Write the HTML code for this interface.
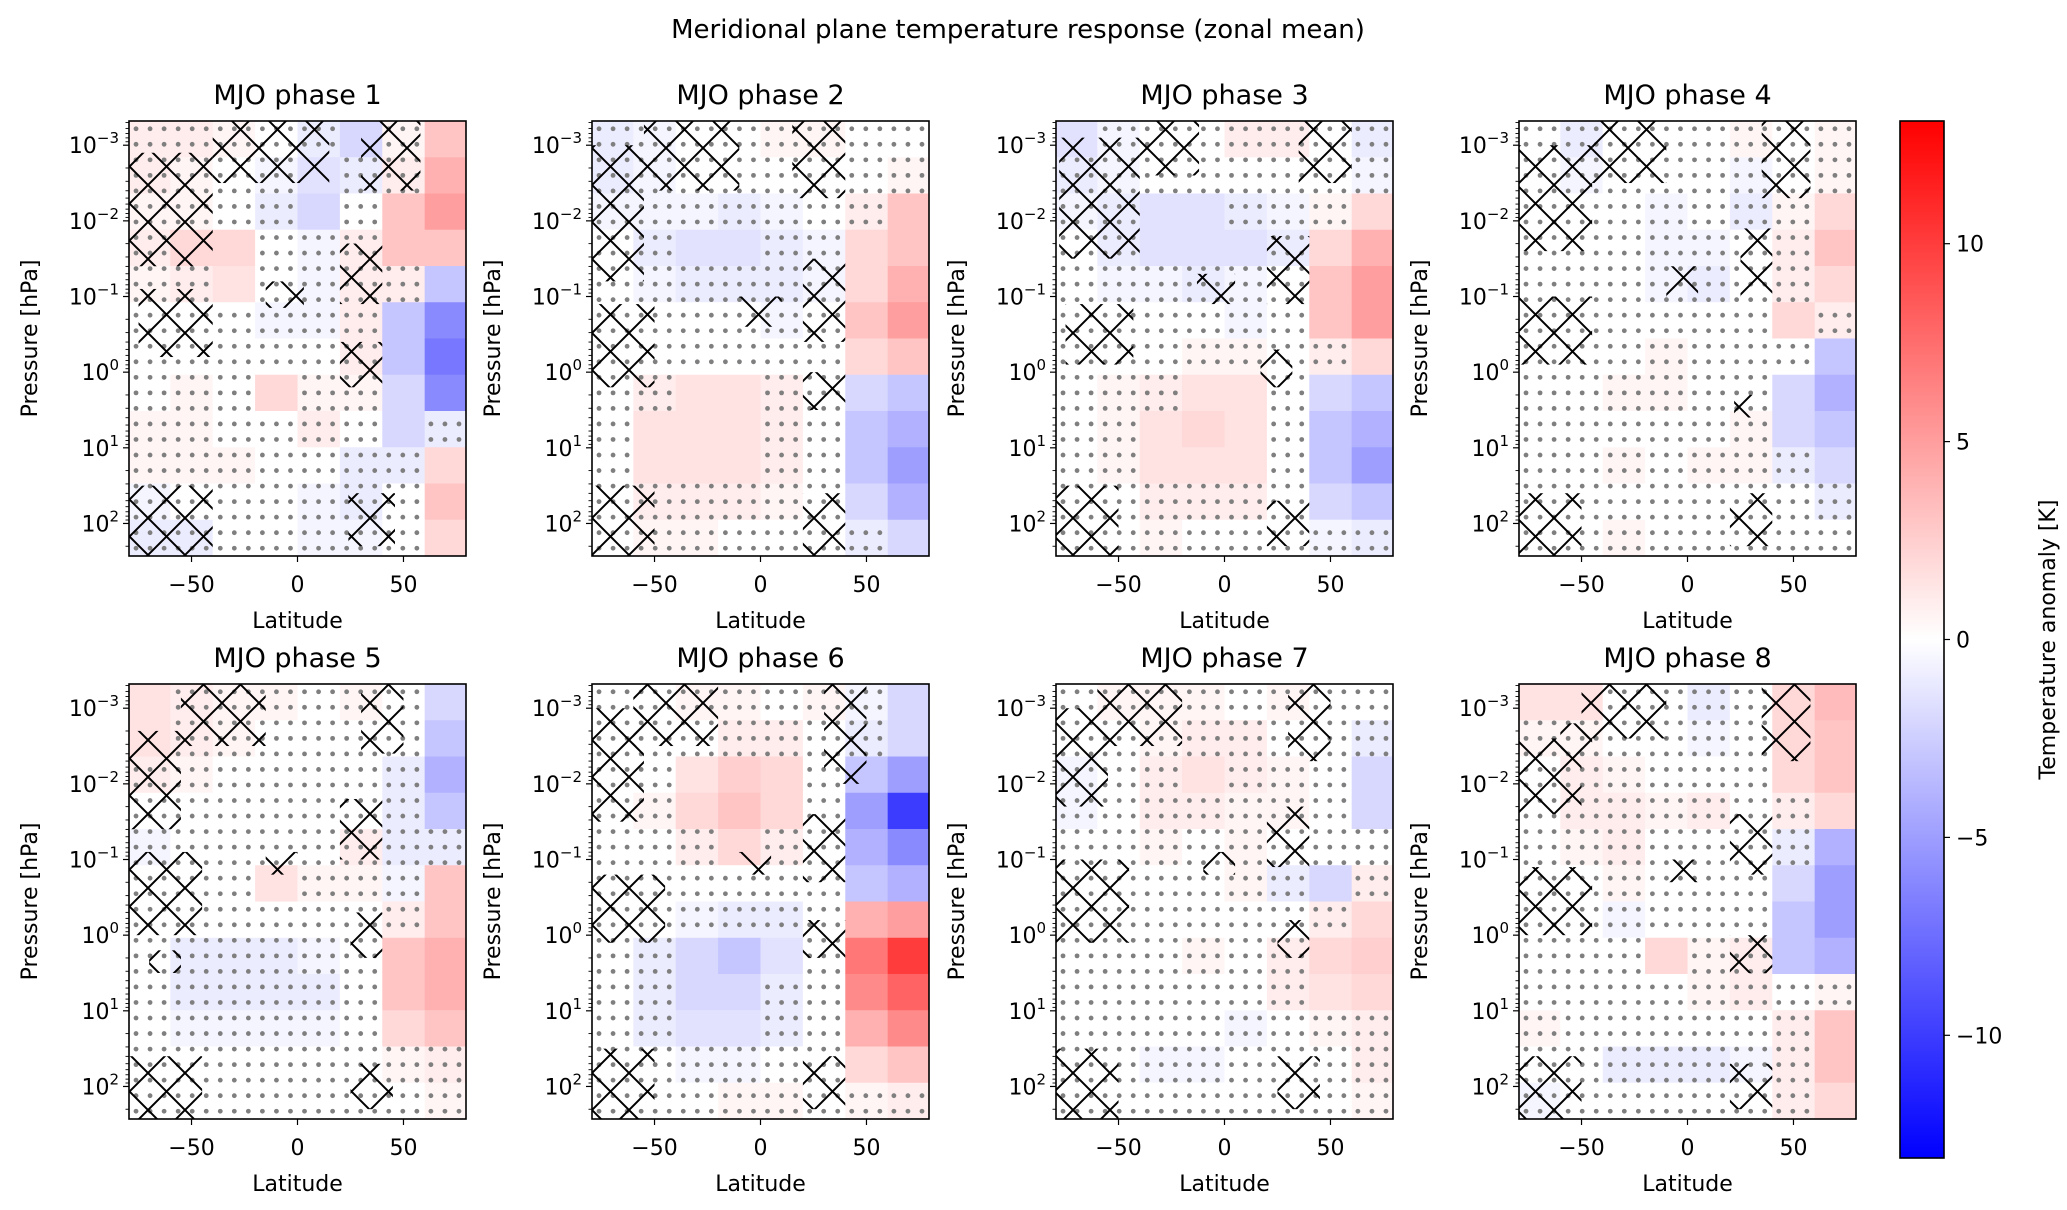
<!DOCTYPE html>
<html><head><meta charset="utf-8"><style>
html,body{margin:0;padding:0;background:#fff}
svg text{font-family:"DejaVu Sans","Liberation Sans",sans-serif;fill:#000}
</style></head><body>
<svg id="fig" width="2067" height="1205" viewBox="0 0 2067 1205" xmlns="http://www.w3.org/2000/svg">
<defs>
<pattern id="hatch" patternUnits="userSpaceOnUse" width="37" height="37">
<path d="M0,0L37,37M37,0L0,37" stroke="#000" stroke-width="2" fill="none"/>
</pattern>
<linearGradient id="cbgrad" x1="0" y1="1" x2="0" y2="0">
<stop offset="0" stop-color="rgb(0,0,255)"/><stop offset="0.5" stop-color="rgb(255,255,255)"/><stop offset="1" stop-color="rgb(255,0,0)"/>
</linearGradient>
</defs>
<text x="1018" y="38" font-size="26" text-anchor="middle">Meridional plane temperature response (zonal mean)</text>
</svg>
<script>
// ---- data ----
const latEdges = [-80,-60,-40,-20,0,20,40,60,80];
const logpTop = -3.32, logpBottom = 2.43;
const nRows = 12;
const cbTicks = [10,5,0,-5,-10];
const yTickExps = [-3,-2,-1,0,1,2];
const xTicks = [-50,0,50];
const vmax = 13.1;
const phase1 = [[1,1,0.5,0,-1,-2,0.5,3],[1,0.5,0,-0.5,-1.5,-1,1,4],[0.5,0.5,0,-1,-2,0,3,5],[1,2,2,0,-0.5,1,3,3],[0.5,1,1.5,0,-0.5,1,1,-3],[0,0,0,-0.5,-0.5,1,-3,-6],[0,0,0,0,0,1,-3,-7],[0,0.5,0,2,0.5,0.5,-2,-6],[0.5,0.5,0,0,1,0,-2,-1],[0.5,0.5,0.5,0,0,-1,-1,2],[-0.5,0,0,0,-0.5,-1,0,3],[-1,-1,0,0,-0.5,-0.5,0,2]];
const phase2 = [[-1,-0.5,0,0,0.5,0.5,0,0],[-1,-0.5,0,0,0,0,0,0.5],[-0.5,-0.5,-0.5,-1,-0.5,0,1,3],[0,-1,-1.5,-1.5,-1,-0.5,2,3],[0,-0.5,-1,-1,-1,-0.5,2,4],[0,0,0,0,-0.5,0,3,5],[0,0,0,0,0,0,2,3],[0,1,1.5,1.5,1,0,-2,-3],[0,1.5,1.5,1.5,1,0,-3,-4],[0,1.5,1.5,1.5,1,0,-3,-5],[0,1,1,1,0.5,0,-2,-4],[0,0.5,0.5,0,0,0,-1,-2]];
const phase3 = [[-1.5,-0.5,0,0,1,1,0,-1],[-1,-0.5,0,0,0,0,0,-0.5],[-0.5,-1,-1.5,-1.5,-1,-0.5,0.5,2],[0,-1,-1.5,-1.5,-1.5,-1,2,4],[0,-0.5,-0.5,-1,-0.5,0,3,5],[0,0,0,0,-0.5,0,3,5],[0,0,0,0.5,0.5,0,1,2],[0,0.5,1,1.5,1.5,0,-2,-3],[0,0.5,1.5,2,1.5,0,-3,-4],[0,0.5,1.5,1.5,1.5,0,-3,-5],[0,0,1,1,1,0,-2,-3],[0,0,0.5,0,0,0,-0.5,-1]];
const phase4 = [[0,-1,0,0,0,0.5,0,0.5],[0,-0.5,0,0,0,-0.5,0,0.5],[0,0,0,-0.5,0,-1,0.5,2],[0,0,0,-0.5,-0.5,0,1,3],[0,0,0,-0.5,-1,0,1,2],[0,0,0,0,0,0,2,1],[0,0,0,0.5,0,0,0,-3],[0,0,0.5,0.5,0,0,-2,-4],[0,0,0,0,0,0.5,-2,-3],[0,0,0.5,0,0.5,0.5,-1,-2],[0,0,0,0,0,0,0,-1],[0,0,0.5,0,0,0,0,0]];
const phase5 = [[1.5,1,0.5,0.5,0,0.5,0,-2],[1.5,1,0.5,0,0,0,0,-3],[1,0.5,0,0,0,0,-1,-4],[0,0,0,0,0,0,-1,-3],[-0.5,0,0,0,0,1,-1,-1],[0,0,0,1.5,0.5,0.5,-0.5,3],[0,0,0,0,0,0,1,3],[0,-1,-1,-1,-0.5,0,3,4],[0,-1,-1,-1,-1,0,3,4],[0,-0.5,-0.5,-0.5,-0.5,0,2,3],[0,0,0,0,0,0,0.5,1],[0,0,0,0,0,0,0,0.5]];
const phase6 = [[0,0,0.5,0.5,0,0.5,-0.5,-2],[0,0,0,1,1,0,-1,-2],[0,0,1.5,2.5,2,0,-3,-5],[0,0.5,2,3,2,0,-5,-10],[0,0,1,2,1,0,-4,-6],[0,0,0,0,0,0,-3,-4],[0,0,-0.5,-1,-1,0,4,5],[0,-1,-2,-3,-1.5,0,7,10],[0,-1,-2,-2,-1,0,6,8],[0,-1,-1.5,-1.5,-1,0,4,6],[0,0,-0.5,-0.5,0,0,2,3],[0,0,0,0.5,0.5,0,0.5,1]];
const phase7 = [[0,0.5,0.5,0.5,0,0.5,0,0],[0,0,0.5,1,1,0,0,-1],[-0.5,0,1,1.5,1,0.5,0,-2],[-0.5,0,1,1,0.5,0.5,0,-2],[0,0,0.5,0,0.5,0,0,0],[0,0,0,0,0.5,-1,-2,1],[0,0,0,0,0,0,1,2],[0,0,0,0.5,0,1,2,2.5],[0,0,0,0,0,1,1.5,2],[0,0,0,0,-0.5,0,0.5,1],[0,0,-0.5,-0.5,0,0,0,1],[0,0,0,0,0,0,0,0.5]];
const phase8 = [[1.5,1.5,0,0,-1,0,2,3.5],[0.5,0.5,0,0,-0.5,0,2,3],[0,1,0.5,0,0,0,2,3],[0,1,1,0.5,1,0,1,2],[0,0.5,1,0,0,0,-1,-4],[0,0,0.5,0,0,0,-2,-5],[0,0,-0.5,0,0,0,-3,-5],[0,0,0,2,0.5,1,-3,-4],[0,0,0,0,0.5,1,0,0.5],[0.5,0,0,0,0,0,1,3],[0,0,-1,-1,-1,-0.5,1,3],[-0.5,0,0,0,0,0,1,2]];
const hatch1 = [[-80,-40,-2.9,-1.4],[-40,15,-3.32,-2.5],[30,58,-3.32,-2.4],[-75,-40,-1.1,-0.2],[-80,-40,1.5,2.43],[20,40,-1.7,-0.9],[-15,3,-1.2,-0.85],[20,40,-0.4,0.2],[24,46,1.6,2.3]];
const hatch2 = [[-80,-55,-3.0,-1.2],[-55,-10,-3.32,-2.4],[15,40,-3.32,-2.3],[-80,-50,-0.9,0.2],[-80,-50,1.5,2.43],[-10,10,-1.0,-0.6],[20,40,-1.5,-0.4],[20,40,0.0,0.5],[20,40,1.6,2.43]];
const hatch3 = [[-78,-40,-3.1,-1.5],[-40,-12,-3.32,-2.6],[35,60,-3.32,-2.5],[-75,-43,-0.9,-0.1],[-80,-50,1.5,2.43],[-13,5,-1.3,-0.9],[20,40,-1.8,-0.9],[17,32,-0.3,0.2],[20,40,1.7,2.3]];
const hatch4 = [[-80,-45,-3.0,-1.6],[-45,-10,-3.32,-2.5],[35,58,-3.32,-2.3],[-80,-45,-1.0,-0.1],[-80,-50,1.6,2.43],[-10,5,-1.4,-1.0],[25,40,-1.9,-1.0],[22,35,0.3,0.6],[20,40,1.6,2.3]];
const hatch5 = [[-80,-55,-2.7,-1.4],[-55,-15,-3.32,-2.5],[30,50,-3.32,-2.4],[-80,-45,-1.1,0],[-80,-45,1.6,2.43],[-15,0,-1.1,-0.8],[20,40,-1.8,-1.0],[25,40,-0.3,0.3],[25,45,1.7,2.3],[-70,-55,0.2,0.5]];
const hatch6 = [[-80,-55,-3.0,-1.5],[-60,-20,-3.32,-2.5],[30,50,-3.32,-2.0],[-80,-45,-0.8,0.1],[-80,-50,1.5,2.43],[-10,5,-1.1,-0.8],[20,40,-1.6,-0.7],[20,40,-0.2,0.3],[20,40,1.6,2.3]];
const hatch7 = [[-80,-55,-3.0,-1.7],[-60,-20,-3.32,-2.5],[30,50,-3.32,-2.3],[-80,-45,-1.0,0.1],[-80,-50,1.5,2.43],[-10,5,-1.1,-0.8],[20,40,-1.7,-0.9],[25,40,-0.2,0.3],[25,45,1.6,2.3]];
const hatch8 = [[-80,-50,-2.6,-1.6],[-50,-10,-3.32,-2.6],[35,58,-3.32,-2.3],[-80,-45,-0.9,0],[-80,-50,1.6,2.43],[-10,5,-1.0,-0.7],[20,40,-1.6,-0.8],[20,40,0.0,0.5],[20,40,1.7,2.3],[-60,-45,-2.8,-2.4]];
const phases = [phase1,phase2,phase3,phase4,phase5,phase6,phase7,phase8];
const hatches = [hatch1,hatch2,hatch3,hatch4,hatch5,hatch6,hatch7,hatch8];

// ---- layout ----
const NS = "http://www.w3.org/2000/svg";
const svg = document.getElementById('fig');
const colLeft = [129,592,1056,1519], rowTop = [121,684], PW = 337, PH = 435;
const latMin = -79.5, latMax = 79.5;
function mk(tag, attrs, parent){const e=document.createElementNS(NS,tag);for(const k in attrs)e.setAttribute(k,attrs[k]);(parent||svg).appendChild(e);return e;}
function cmap(v){let t=Math.max(-1,Math.min(1,v/vmax));if(t>=0){const c=Math.round(255*(1-t));return `rgb(255,${c},${c})`;}const c=Math.round(255*(1+t));return `rgb(${c},${c},255)`;}
function supLabel(g,x,y,exp,anchor){
  const t=mk('text',{x:x,y:y,'font-size':22,'text-anchor':anchor},g);
  t.appendChild(document.createTextNode('10'));
  const s=mk('tspan',{'font-size':15,dy:-10},t);
  s.textContent=(exp<0?'\u2212':'')+Math.abs(exp);
  return t;
}

phases.forEach((data,pi)=>{
  const L=colLeft[pi%4], T=rowTop[Math.floor(pi/4)];
  const xs = lat => L + (lat-latMin)/(latMax-latMin)*PW;
  const ys = lp => T + (lp-logpTop)/(logpBottom-logpTop)*PH;
  const g=mk('g',{});
  
  
  const cid='clip'+pi;
  const cp=mk('clipPath',{id:cid},g); mk('rect',{x:L,y:T,width:PW,height:PH},cp);
  const plot=mk('g',{'clip-path':`url(#${cid})`},g);
  
  
  const rowH=(logpBottom-logpTop)/nRows;
  data.forEach((row,ri)=>{row.forEach((v,ci)=>{
    const x0=xs(latEdges[ci]),x1=xs(latEdges[ci+1]),y0=ys(logpTop+ri*rowH),y1=ys(logpTop+(ri+1)*rowH);
    const r=mk('rect',{x:x0,y:y0,width:x1-x0+0.6,height:y1-y0+0.6,fill:cmap(v)},plot);
    
    
  });});
  // significance dots
  const nDx=24,nDy=28;
  for(let i=0;i<nDx;i++)for(let j=0;j<nDy;j++){
    const lat=latMin+(i+0.5)*(latMax-latMin)/nDx, lp=logpTop+(j+0.5)*(logpBottom-logpTop)/nDy;
    let ci=latEdges.findIndex((e,k)=>k<latEdges.length-1&&lat>=e&&lat<latEdges[k+1]); if(ci<0)ci=lat<0?0:7;
    let ri=Math.min(nRows-1,Math.max(0,Math.floor((lp-logpTop)/rowH)));
    if(Math.abs(data[ri][ci])<1.5){
      const d=mk('circle',{cx:xs(lat),cy:ys(lp),r:2.4,fill:'#7f7f7f'},plot);
      
      
    }
  }
  hatches[pi].forEach(h=>{
    const r=mk('rect',{x:xs(h[0]),y:ys(h[2]),width:xs(h[1])-xs(h[0]),height:ys(h[3])-ys(h[2]),fill:'url(#hatch)'},plot);
    
    
  });
  const fr=mk('rect',{x:L,y:T,width:PW,height:PH,fill:'none',stroke:'#000','stroke-width':1.6},g);
  
  
  // y ticks
  yTickExps.forEach(e=>{
    const y=ys(e);
    mk('line',{x1:L-6,x2:L,y1:y,y2:y,stroke:'#000','stroke-width':1.2},g);
    const t=supLabel(g,L-10,y+8,e,'end');
    
    
  });
  for(let e=-4;e<=2;e++)for(let m=2;m<=9;m++){
    const lp=e+Math.log10(m); if(lp<logpTop||lp>logpBottom)continue;
    const y=ys(lp); mk('line',{x1:L-3.5,x2:L,y1:y,y2:y,stroke:'#000','stroke-width':0.9},g);
  }
  xTicks.forEach(v=>{
    const x=xs(v);
    mk('line',{x1:x,x2:x,y1:T+PH,y2:T+PH+6,stroke:'#000','stroke-width':1.2},g);
    const t=mk('text',{x:x,y:T+PH+36,'font-size':22,'text-anchor':'middle'},g);
    t.textContent=v<0?'\u2212'+Math.abs(v):String(v);
    
    
  });
  const xl=mk('text',{x:L+PW/2,y:T+PH+72,'font-size':22,'text-anchor':'middle'},g);
  xl.textContent='Latitude';
  
  
  const yl=mk('text',{x:0,y:0,'font-size':22,'text-anchor':'middle',transform:`translate(${L-92},${T+PH/2}) rotate(-90)`},g);
  yl.textContent='Pressure [hPa]';
  
  
  const tt=mk('text',{x:L+PW/2,y:T-17,'font-size':27,'text-anchor':'middle'},g);
  tt.textContent='MJO phase '+(pi+1);
  
  
});

// colorbar
const cbX=1900, cbW=44, cbT=121, cbB=1158;
const cg=mk('g',{});


mk('rect',{x:cbX,y:cbT,width:cbW,height:cbB-cbT,fill:'url(#cbgrad)',stroke:'#000','stroke-width':1.6},cg);
const cy=v=>cbT+(vmax-v)/(2*vmax)*(cbB-cbT);
cbTicks.forEach(v=>{
  const y=cy(v);
  mk('line',{x1:cbX+cbW,x2:cbX+cbW+6,y1:y,y2:y,stroke:'#000','stroke-width':1.2},cg);
  const t=mk('text',{x:cbX+cbW+12,y:y+8,'font-size':22},cg);
  t.textContent=v<0?'\u2212'+Math.abs(v):String(v);
  
  
});
const cl=mk('text',{x:0,y:0,'font-size':22,'text-anchor':'middle',transform:`translate(2055,${(cbT+cbB)/2}) rotate(-90)`},cg);
cl.textContent='Temperature anomaly [K]';


</script>
</body></html>
